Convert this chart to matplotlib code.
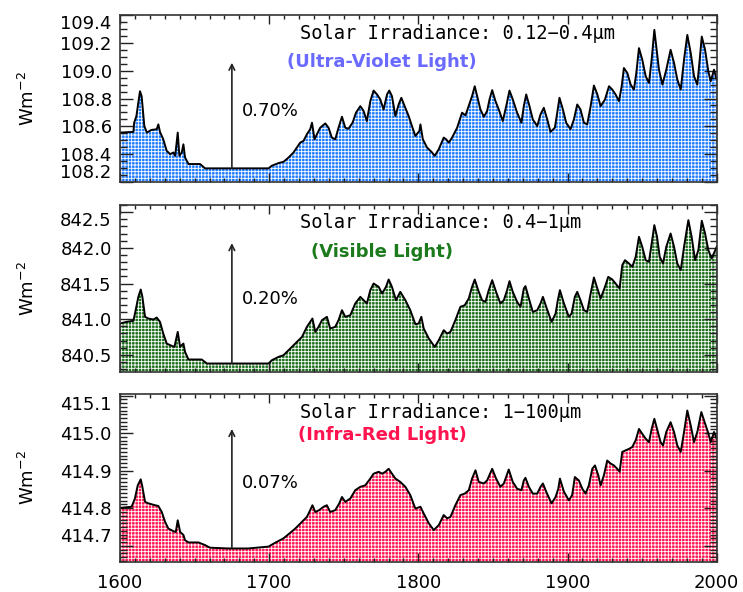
import matplotlib
matplotlib.use("Agg")
import matplotlib.pyplot as plt
from matplotlib.ticker import MultipleLocator, FixedLocator

# ---------------- data ----------------
uv_years = [1600, 1609, 1609.5, 1611, 1613.4, 1614.5, 1616.3, 1618, 1621, 1624.6, 1625.7, 1626.8, 1629,
            1631.3, 1633.6, 1635.8, 1637, 1638.7, 1639.8, 1641.4, 1642.5, 1643.6, 1645.9, 1653.7, 1657,
            1699.6, 1701.8, 1706.3, 1709.6, 1713, 1716.3, 1718.6, 1720.8, 1723, 1725.3, 1727.5, 1728.7,
            1730.4, 1732, 1734.2, 1737.6, 1739.8, 1742, 1744.3, 1746.5, 1748.8, 1751, 1753.2, 1755.9,
            1758.2, 1761.1, 1763.3, 1765.5, 1767.8, 1770, 1772.3, 1774.5, 1776.7, 1779, 1780.5, 1782.3,
            1784.6, 1786.8, 1788.6, 1790.8, 1793.5, 1795.7, 1798, 1800.7, 1801.4, 1803, 1805.8, 1809.2,
            1811, 1813.7, 1817, 1818.6, 1820.4, 1822.6, 1826, 1829.3, 1831.6, 1833.3, 1836, 1837.8,
            1839.4, 1841.6, 1843.9, 1846.1, 1847.7, 1849.5, 1851.7, 1853.9, 1856.6, 1858.9, 1861.1,
            1863.3, 1866.2, 1869.1, 1870.7, 1872.3, 1874.5, 1876.7, 1879.7, 1881.9, 1884.1, 1886.4,
            1888.6, 1891.5, 1893.1, 1894.6, 1896.9, 1899.1, 1902, 1904.3, 1906.5, 1908.7, 1911, 1913.2,
            1915.5, 1917.7, 1920, 1922.2, 1925.1, 1927.8, 1930, 1932.2, 1934.5, 1936.3, 1937.8, 1940.1,
            1942.3, 1944.5, 1946.1, 1947.9, 1950.1, 1952.4, 1954.6, 1956.4, 1958.2, 1959.5, 1961.3,
            1963.6, 1966.2, 1969.1, 1971.4, 1973.6, 1975.9, 1978.1, 1980.3, 1982.6, 1984.8, 1987,
            1988.6, 1990, 1992.2, 1994.4, 1996, 1998.2, 2000]
uv_values = [108.555, 108.56, 108.626, 108.674, 108.852, 108.817, 108.602, 108.555, 108.574, 108.579,
             108.614, 108.56, 108.507, 108.424, 108.4, 108.412, 108.388, 108.555, 108.388, 108.412,
             108.471, 108.376, 108.329, 108.329, 108.298, 108.298, 108.317, 108.336, 108.345, 108.376,
             108.412, 108.448, 108.483, 108.495, 108.543, 108.579, 108.626, 108.507, 108.543, 108.59,
             108.621, 108.59, 108.519, 108.507, 108.59, 108.669, 108.59, 108.583, 108.626, 108.698,
             108.745, 108.71, 108.638, 108.781, 108.857, 108.829, 108.793, 108.721, 108.829, 108.857,
             108.817, 108.674, 108.757, 108.805, 108.745, 108.674, 108.602, 108.531, 108.567, 108.614,
             108.507, 108.448, 108.412, 108.388, 108.436, 108.519, 108.507, 108.483, 108.519, 108.59,
             108.698, 108.679, 108.733, 108.817, 108.888, 108.817, 108.721, 108.669, 108.71, 108.793,
             108.86, 108.781, 108.721, 108.638, 108.745, 108.857, 108.793, 108.698, 108.626, 108.745,
             108.829, 108.745, 108.65, 108.602, 108.686, 108.733, 108.65, 108.56, 108.59, 108.698,
             108.805, 108.721, 108.626, 108.579, 108.65, 108.757, 108.721, 108.626, 108.614, 108.745,
             108.893, 108.829, 108.745, 108.793, 108.888, 108.864, 108.829, 108.781, 108.888, 109.019,
             108.983, 108.9, 108.864, 108.983, 109.162, 109.079, 108.96, 108.912, 109.079, 109.293,
             109.174, 109.007, 108.9, 109.007, 109.15, 109.055, 108.936, 108.864, 109.079, 109.257,
             109.126, 108.96, 108.9, 109.079, 109.245, 109.15, 108.995, 108.924, 109.007, 108.936]

vis_years = [1600, 1604.5, 1609, 1610.5, 1612.3, 1613.9, 1615, 1616.8, 1619, 1622.4, 1624.6, 1626.8,
             1629, 1631.3, 1633.6, 1636.5, 1638.7, 1640.3, 1642.5, 1643.6, 1645.9, 1654.8, 1658.2,
             1699.6, 1701.8, 1706.3, 1709.6, 1713, 1717.5, 1722, 1725.3, 1727.5, 1729, 1730.9, 1733.1,
             1735.4, 1738.7, 1740.9, 1744.3, 1746.5, 1748.8, 1751, 1754.4, 1757.7, 1761.1, 1763.3,
             1765.5, 1767.8, 1770, 1773.4, 1775.7, 1778.3, 1780.1, 1782.3, 1785, 1787.9, 1791.3,
             1794.6, 1798, 1800.2, 1802, 1803.6, 1807, 1811, 1813.7, 1817, 1819.3, 1821.5, 1824.8,
             1828.2, 1831.1, 1833.8, 1836, 1837.8, 1840.1, 1842.7, 1845, 1847.2, 1849.5, 1852.1, 1855,
             1857.3, 1859.5, 1861.1, 1863.3, 1866.2, 1868.5, 1870.7, 1871.8, 1874.1, 1876.7, 1879.7,
             1881.9, 1883.5, 1885.7, 1889.3, 1892, 1893.5, 1894.9, 1897.6, 1900.9, 1902.7, 1904.9,
             1906.5, 1908.7, 1911, 1913.2, 1915.5, 1917.7, 1920, 1922.2, 1925.1, 1927.3, 1930, 1932.2,
             1934.9, 1936.7, 1938.5, 1941.2, 1943.4, 1945.7, 1947.9, 1950.1, 1952.4, 1954.6, 1956.4,
             1958.2, 1960, 1961.8, 1964, 1966.2, 1969.1, 1971.4, 1973.6, 1975.9, 1978.1, 1981, 1983.2,
             1985.5, 1987.7, 1990, 1992.2, 1994.4, 1996.6, 2000]
vis_values = [840.939, 840.963, 840.977, 841.126, 841.313, 841.416, 841.313, 841.033, 841.009, 840.995,
              841.023, 840.963, 840.799, 840.659, 840.636, 840.612, 840.822, 840.612, 840.659, 840.542,
              840.435, 840.435, 840.379, 840.379, 840.425, 840.472, 840.495, 840.565, 840.659, 840.752,
              840.893, 840.963, 841.009, 840.822, 840.893, 840.986, 841.033, 840.869, 840.893, 840.986,
              841.126, 841.033, 841.056, 841.22, 841.313, 841.266, 841.22, 841.407, 841.5, 841.453,
              841.36, 841.453, 841.556, 841.453, 841.266, 841.383, 841.266, 841.126, 840.93, 840.939,
              841.033, 840.869, 840.729, 840.612, 840.706, 840.846, 840.799, 840.822, 840.986, 841.173,
              841.196, 841.29, 841.453, 841.556, 841.407, 841.266, 841.243, 841.407, 841.547, 841.383,
              841.22, 841.266, 841.407, 841.533, 841.383, 841.243, 841.173, 841.43, 841.463, 841.29,
              841.103, 841.126, 841.22, 841.313, 841.173, 840.963, 841.079, 841.266, 841.407, 841.22,
              841.033, 841.079, 841.313, 841.383, 841.266, 841.126, 841.103, 841.36, 841.584, 841.43,
              841.29, 841.453, 841.593, 841.556, 841.5, 841.43, 841.757, 841.827, 841.78, 841.734,
              841.874, 842.154, 842.014, 841.827, 841.804, 842.061, 842.318, 842.154, 841.874, 841.78,
              842.014, 842.201, 842.014, 841.78, 841.687, 842.014, 842.388, 842.154, 841.827, 841.967,
              842.379, 842.201, 841.967, 841.85, 842.014]

ir_years = [1600, 1607.8, 1610, 1611.9, 1613.9, 1615, 1616.8, 1619, 1623.5, 1625.7, 1628, 1630.2,
            1632.4, 1635.8, 1637.4, 1638.7, 1640.3, 1642.5, 1643.6, 1645.9, 1652.6, 1657, 1660.4,
            1672.7, 1686, 1699.6, 1703, 1706.3, 1709.6, 1713, 1717.5, 1722, 1725.3, 1727.5, 1729,
            1730.9, 1733.5, 1736.5, 1738.7, 1740.9, 1744.3, 1747, 1748.8, 1751, 1754.4, 1757.7, 1761.1,
            1764.4, 1767.8, 1770, 1773.4, 1775.7, 1777.9, 1780.1, 1782.3, 1784.6, 1787.9, 1791.3,
            1794.6, 1798, 1801.4, 1803.6, 1807, 1810.3, 1813.7, 1817, 1819.3, 1821.5, 1824.8, 1828.2,
            1831.1, 1833.8, 1836, 1838.3, 1840.5, 1843.9, 1846.1, 1849.5, 1852.1, 1855, 1857.3, 1860.6,
            1863.3, 1866.2, 1869.1, 1870.7, 1871.8, 1874.1, 1876.7, 1879.7, 1881.9, 1883.5, 1885.7,
            1889.3, 1892, 1893.8, 1894.9, 1897.6, 1900.9, 1903.1, 1904.9, 1907.6, 1909.9, 1912.1,
            1914.3, 1916.6, 1918.4, 1920.6, 1922.2, 1924.4, 1926.6, 1928.9, 1931.1, 1933.3, 1934.9,
            1936.7, 1938.9, 1941.2, 1943.4, 1945.7, 1947.9, 1950.1, 1952.4, 1954.6, 1956.4, 1958.2,
            1960, 1962.4, 1964, 1966.2, 1969.1, 1971.4, 1973.6, 1975.9, 1978.1, 1980.3, 1982.6, 1984.8,
            1987, 1989.7, 1991.9, 1994.1, 1996, 1998.2, 2000]
ir_values = [414.801, 414.804, 414.826, 414.861, 414.877, 414.857, 414.817, 414.813, 414.808, 414.806,
             414.79, 414.764, 414.746, 414.739, 414.737, 414.768, 414.737, 414.729, 414.715, 414.709,
             414.709, 414.702, 414.695, 414.693, 414.693, 414.698, 414.706, 414.713, 414.72, 414.731,
             414.746, 414.764, 414.777, 414.795, 414.808, 414.79, 414.795, 414.804, 414.808, 414.79,
             414.795, 414.813, 414.83, 414.817, 414.826, 414.848, 414.857, 414.861, 414.879, 414.892,
             414.897, 414.892, 414.897, 414.905, 414.892, 414.879, 414.87, 414.857, 414.835, 414.799,
             414.804, 414.786, 414.76, 414.742, 414.755, 414.782, 414.773, 414.777, 414.808, 414.835,
             414.839, 414.848, 414.879, 414.901, 414.87, 414.866, 414.874, 414.905, 414.879, 414.857,
             414.866, 414.903, 414.87, 414.852, 414.848, 414.874, 414.881, 414.857, 414.839, 414.839,
             414.857, 414.866, 414.844, 414.813, 414.83, 414.852, 414.879, 414.844, 414.821, 414.835,
             414.883, 414.874, 414.852, 414.839, 414.861, 414.905, 414.914, 414.888, 414.861, 414.888,
             414.927, 414.919, 414.914, 414.905, 414.897, 414.95, 414.954, 414.958, 414.963, 414.981,
             415.011, 414.998, 414.985, 414.976, 415.011, 415.038, 415.011, 414.976, 414.967, 415.003,
             415.029, 415.003, 414.967, 414.95, 415.003, 415.06, 415.02, 414.976, 415.003, 415.056,
             415.029, 415.003, 414.976, 415.003, 414.985]

titles = ["Solar Irradiance: 0.12\u22120.4\u00b5m", "Solar Irradiance: 0.4\u22121\u00b5m",
          "Solar Irradiance: 1\u2212100\u00b5m"]
subtitles = ["(Ultra-Violet Light)", "(Visible Light)", "(Infra-Red Light)"]
percents = ["0.70%", "0.20%", "0.07%"]
ylims = [(108.2, 109.4), (840.26, 842.6), (414.657, 415.104)]
yticks = [[108.2, 108.4, 108.6, 108.8, 109.0, 109.2, 109.4],
          [840.5, 841.0, 841.5, 842.0, 842.5],
          [414.7, 414.8, 414.9, 415.0, 415.1]]
ytick_labels = [["108.2", "108.4", "108.6", "108.8", "109.0", "109.2", "109.4"],
                ["840.5", "841.0", "841.5", "842.0", "842.5"],
                ["414.7", "414.8", "414.9", "415.0", "415.1"]]
yminor = [0.05, 0.1, 0.01]
arrow_year = 1675
arrow_tops = [109.057, 842.066, 415.011]
arrow_bases = [108.298, 840.379, 414.695]
percent_y = [108.707, 841.28, 414.866]
xticks = [1600, 1700, 1800, 1900, 2000]

fill_colors = ["#1f7cff", "#1b6e1b", "#ff1450"]
sub_colors = ["#6a6aff", "#1b7a1b", "#ff1450"]

series = [(uv_years, uv_values), (vis_years, vis_values), (ir_years, ir_values)]

# ---------------- figure ----------------
W, H = 743, 592
fig = plt.figure(figsize=(W / 100, H / 100), dpi=100)
plt.rcParams['hatch.linewidth'] = 0.6

positions = [(120, 15, 182), (120, 205, 372), (120, 394, 562)]
right_px = 716.7

for i, (ax_pos, (xs, ys)) in enumerate(zip(positions, series)):
    lx, ty, by = ax_pos
    ax = fig.add_axes([lx / W, 1 - by / H, (right_px - lx) / W, (by - ty) / H])
    lo, hi = ylims[i]
    ax.fill_between(xs, ys, lo - 1, facecolor=fill_colors[i], edgecolor="white",
                    linewidth=0, hatch="+++++")
    ax.plot(xs, ys, color="black", lw=1.4)
    ax.set_xlim(1600, 2000)
    ax.set_ylim(lo, hi)

    ax.xaxis.set_major_locator(FixedLocator(xticks))
    ax.xaxis.set_minor_locator(MultipleLocator(10))
    ax.set_yticks(yticks[i])
    ax.set_yticklabels(ytick_labels[i])
    ax.yaxis.set_minor_locator(MultipleLocator(yminor[i]))
    ax.tick_params(axis="both", which="both", direction="in", top=True, right=True,
                   color="#222222", width=1.0)
    ax.tick_params(axis="x", which="major", length=6.5, pad=9, labelsize=13)
    ax.tick_params(axis="x", which="minor", length=3.2)
    ax.tick_params(axis="y", which="major", length=9.5, pad=6, labelsize=13)
    ax.tick_params(axis="y", which="minor", length=5)
    if i < 2:
        ax.tick_params(axis="x", labelbottom=False)
    for sp in ax.spines.values():
        sp.set_linewidth(1.2)
        sp.set_color("#333333")

    # shift extreme labels inward like the original
    ticks = ax.yaxis.get_major_ticks()
    if i != 1:
        ticks[0].label1.set_va("bottom")
    ticks[-1].label1.set_va("top")

    ax.set_ylabel("Wm$^{-2}$", fontsize=13)
    ax.yaxis.set_label_coords(-0.137, 0.5)

    ax.text((300 - lx) / (right_px - lx), 1 - 18 / (by - ty), titles[i], transform=ax.transAxes,
            ha="left", va="center", fontsize=13.5, color="black", family="DejaVu Sans Mono")
    sub_off = [47, 47, 41][i]
    ax.text((382 - lx) / (right_px - lx), 1 - sub_off / (by - ty), subtitles[i],
            transform=ax.transAxes, ha="center", va="center", fontsize=13,
            fontweight="bold", color=sub_colors[i], family="DejaVu Sans")

    ax.annotate("", xy=(arrow_year, arrow_tops[i]), xytext=(arrow_year, arrow_bases[i]),
                arrowprops=dict(arrowstyle="->", color="#222222", lw=1.2,
                                shrinkA=0, shrinkB=0, mutation_scale=10))
    ax.text(arrow_year + 6.5, percent_y[i], percents[i], ha="left", va="center", fontsize=13)

fig.savefig("out.png", dpi=100)
